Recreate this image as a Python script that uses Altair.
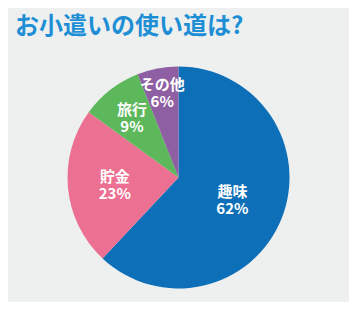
import altair as alt
import pandas as pd
import math

categories = ["趣味", "貯金", "旅行", "その他"]
values = [62, 23, 9, 6]
colors = ["#0d6fb8", "#ec7091", "#5cb85b", "#8f5fa3"]

df = pd.DataFrame({"cat": categories, "val": values, "idx": list(range(len(categories)))})

radius_expr = "datum.cat === '趣味' ? 58 : datum.cat === '貯金' ? 64 : datum.cat === '旅行' ? 76 : 87"

theta_scale = alt.Scale(domain=[0, 100], range=[0, 2 * math.pi])

base = alt.Chart(df).transform_window(
    cum="sum(val)", sort=[alt.SortField("idx")], frame=[None, 0]
).transform_calculate(
    start="datum.cum - datum.val",
    mid="datum.cum - datum.val / 2",
    label="datum.cat + '\\n' + datum.val + '%'",
    lr=radius_expr,
)

pie = base.mark_arc(radius=111).encode(
    theta=alt.Theta("start:Q", scale=theta_scale, stack=None),
    theta2="cum:Q",
    color=alt.Color("cat:N", scale=alt.Scale(domain=categories, range=colors), legend=None),
)

labels = base.mark_text(
    font="Noto Sans CJK JP", fontSize=15, fontWeight="bold", color="white",
    lineBreak="\n", lineHeight=17, align="center", baseline="middle", dy=-7
).encode(
    theta=alt.Theta("mid:Q", scale=theta_scale, stack=None),
    text="label:N",
    radius=alt.Radius("lr:Q", scale=None),
)

chart = (pie + labels).properties(
    width=341,
    height=249,
    padding={"left": 0, "top": 45, "right": 0, "bottom": 0},
    autosize=alt.AutoSizeParams(type="none"),
    background="#eef0f0",
    title=alt.TitleParams(
        "お小遣いの使い道は?", anchor="start", font="Noto Sans CJK JP",
        fontSize=24, fontWeight="bold", color="#1e8fd5", offset=14, dx=7, frame="group"
    ),
).configure_view(stroke=None)

chart.save("out.html", embed_options={"renderer": "svg", "actions": False})
